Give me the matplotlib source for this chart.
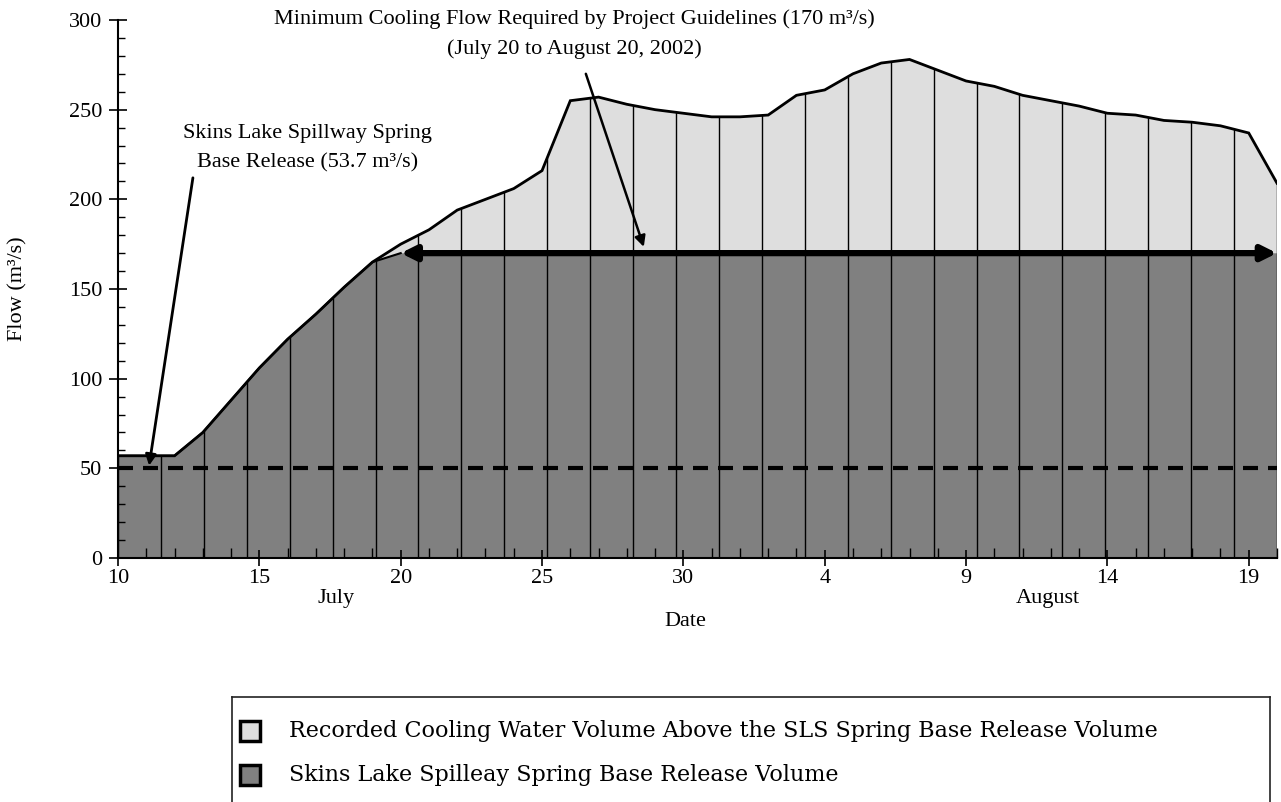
import numpy as np
import matplotlib
matplotlib.use("Agg")
import matplotlib.pyplot as plt
from matplotlib.patches import Rectangle
from matplotlib.lines import Line2D

# ---------------- data ----------------
days = list(range(42))  # July 10 ... August 20, 2002
flow = [57, 57, 57, 70, 88, 106, 122, 136, 151, 165,
        175, 183, 194, 200, 206, 216, 255, 257, 253, 250,
        248, 246, 246, 247, 258, 261, 270, 276, 278, 272,
        266, 263, 258, 255, 252, 248, 247, 244, 243, 241,
        237, 209]
base = [57, 57, 57, 70, 88, 106, 122, 136, 151, 165,
        170, 170, 170, 170, 170, 170, 170, 170, 170, 170,
        170, 170, 170, 170, 170, 170, 170, 170, 170, 170,
        170, 170, 170, 170, 170, 170, 170, 170, 170, 170,
        170, 170]
tick_days = [0, 5, 10, 15, 20, 25, 30, 35, 40]
tick_labels = ["10", "15", "20", "25", "30", "4", "9", "14", "19"]
months = ["July", "August"]
month_pos = [7.7, 32.9]
base_release_level = 50
min_cooling_flow = 170
min_cooling_start, min_cooling_end = 10, 41
n_drop_lines = 28

legend_labels = ["Recorded Cooling Water Volume Above the SLS Spring Base Release Volume",
                 "Skins Lake Spilleay Spring Base Release Volume"]

W, H = 1281, 802
SERIF = ["Liberation Serif", "DejaVu Serif"]
plt.rcParams["font.family"] = SERIF
FS = 16

fig = plt.figure(figsize=(W / 100, H / 100), dpi=100)
L, R, T, B = 118, 1277, 20, 558
ax = fig.add_axes([L / W, 1 - B / H, (R - L) / W, (B - T) / H])

DARK = "#808080"
LIGHT = "#dedede"

ax.fill_between(days, 0, base, facecolor=DARK, edgecolor="none", zorder=1)
ax.fill_between(days, base, flow, facecolor=LIGHT, edgecolor="none", zorder=1)

xs = np.linspace(days[0], days[-1], n_drop_lines)
ax.vlines(xs, 0, np.interp(xs, days, flow), colors="black", lw=1.0, zorder=2)

ax.plot(days, flow, color="black", lw=2.0, zorder=3, solid_joinstyle="miter")
ax.plot(days[:min_cooling_start + 1], base[:min_cooling_start + 1], color="black", lw=1.5, zorder=3)

ax.axhline(base_release_level, color="black", lw=3.0, dashes=(3.6, 2.4),
           dash_capstyle="butt", zorder=4, clip_on=False)

ax.annotate("", xy=(min_cooling_end, min_cooling_flow), xytext=(min_cooling_start, min_cooling_flow),
            arrowprops=dict(arrowstyle="<|-|>", color="black", lw=4.5,
                            mutation_scale=22, shrinkA=0, shrinkB=0),
            zorder=5, annotation_clip=False)

# annotations
ax.annotate("", xy=(1.1, 51.5), xytext=(2.65, 212),
            arrowprops=dict(arrowstyle="-|>", color="black", lw=2.0,
                            mutation_scale=16, shrinkA=0, shrinkB=0), zorder=6)
ax.text(6.7, 228.3, "Skins Lake Spillway Spring\nBase Release (53.7 m³/s)",
        ha="center", va="center", fontsize=FS, linespacing=1.7, zorder=6)

ax.annotate("", xy=(18.6, 173.5), xytext=(16.55, 270),
            arrowprops=dict(arrowstyle="-|>", color="black", lw=1.8,
                            mutation_scale=16, shrinkA=0, shrinkB=0), zorder=6)
ax.text(16.13, 291.9, "Minimum Cooling Flow Required by Project Guidelines (170 m³/s)\n(July 20 to August 20, 2002)",
        ha="center", va="center", fontsize=FS, linespacing=1.7, zorder=6, clip_on=False)

# axes
ax.set_xlim(days[0], days[-1])
ax.set_ylim(0, 300)
ax.set_xticks(tick_days, tick_labels)
ax.set_xticks(days, minor=True)
ax.set_yticks(range(0, 301, 50))
ax.set_yticks(range(0, 301, 10), minor=True)
ax.tick_params(axis="x", which="major", direction="inout", length=12, width=1.2,
               labelsize=FS, pad=2)
ax.tick_params(axis="x", which="minor", direction="in", length=7, width=1.0)
ax.tick_params(axis="y", which="major", direction="inout", length=13, width=1.2,
               labelsize=FS, pad=5)
ax.tick_params(axis="y", which="minor", direction="in", length=5, width=1.0)
for s in ("top", "right"):
    ax.spines[s].set_visible(False)
for s in ("left", "bottom"):
    ax.spines[s].set_linewidth(1.5)
    ax.spines[s].set_zorder(7)


def fx(x):
    return x / W


def fy(y):
    return 1 - y / H


for name, pos in zip(months, month_pos):
    ax.text(pos, -(598 - B) / (B - T), name, transform=ax.get_xaxis_transform(),
            ha="center", va="center", fontsize=FS)

fig.text(fx(685), fy(621), "Date", ha="center", va="center", fontsize=FS)
fig.text(fx(18), fy(289), "Flow (m³/s)", ha="center", va="center", rotation=90, fontsize=FS)

# legend (manual box, bottom cut by the figure edge)
bx0, bx1, by0 = 232, 1270, 697
for (x0, y0), (x1, y1) in ([(bx0, by0), (bx1, by0)], [(bx0, by0), (bx0, H + 5)],
                           [(bx1, by0), (bx1, H + 5)]):
    fig.add_artist(Line2D([fx(x0), fx(x1)], [fy(y0), fy(y1)], color="#222222", lw=1.2))

for lab, col, cy in zip(legend_labels, [LIGHT, DARK], [731, 775]):
    s = 20
    fig.add_artist(Rectangle((fx(250 - s / 2), fy(cy + s / 2)), s / W, s / H,
                             facecolor=col, edgecolor="black", lw=2.5))
    fig.text(fx(289), fy(cy), lab, ha="left", va="center", fontsize=FS,
             family=["DejaVu Serif"])

fig.savefig("out.png", dpi=100)
